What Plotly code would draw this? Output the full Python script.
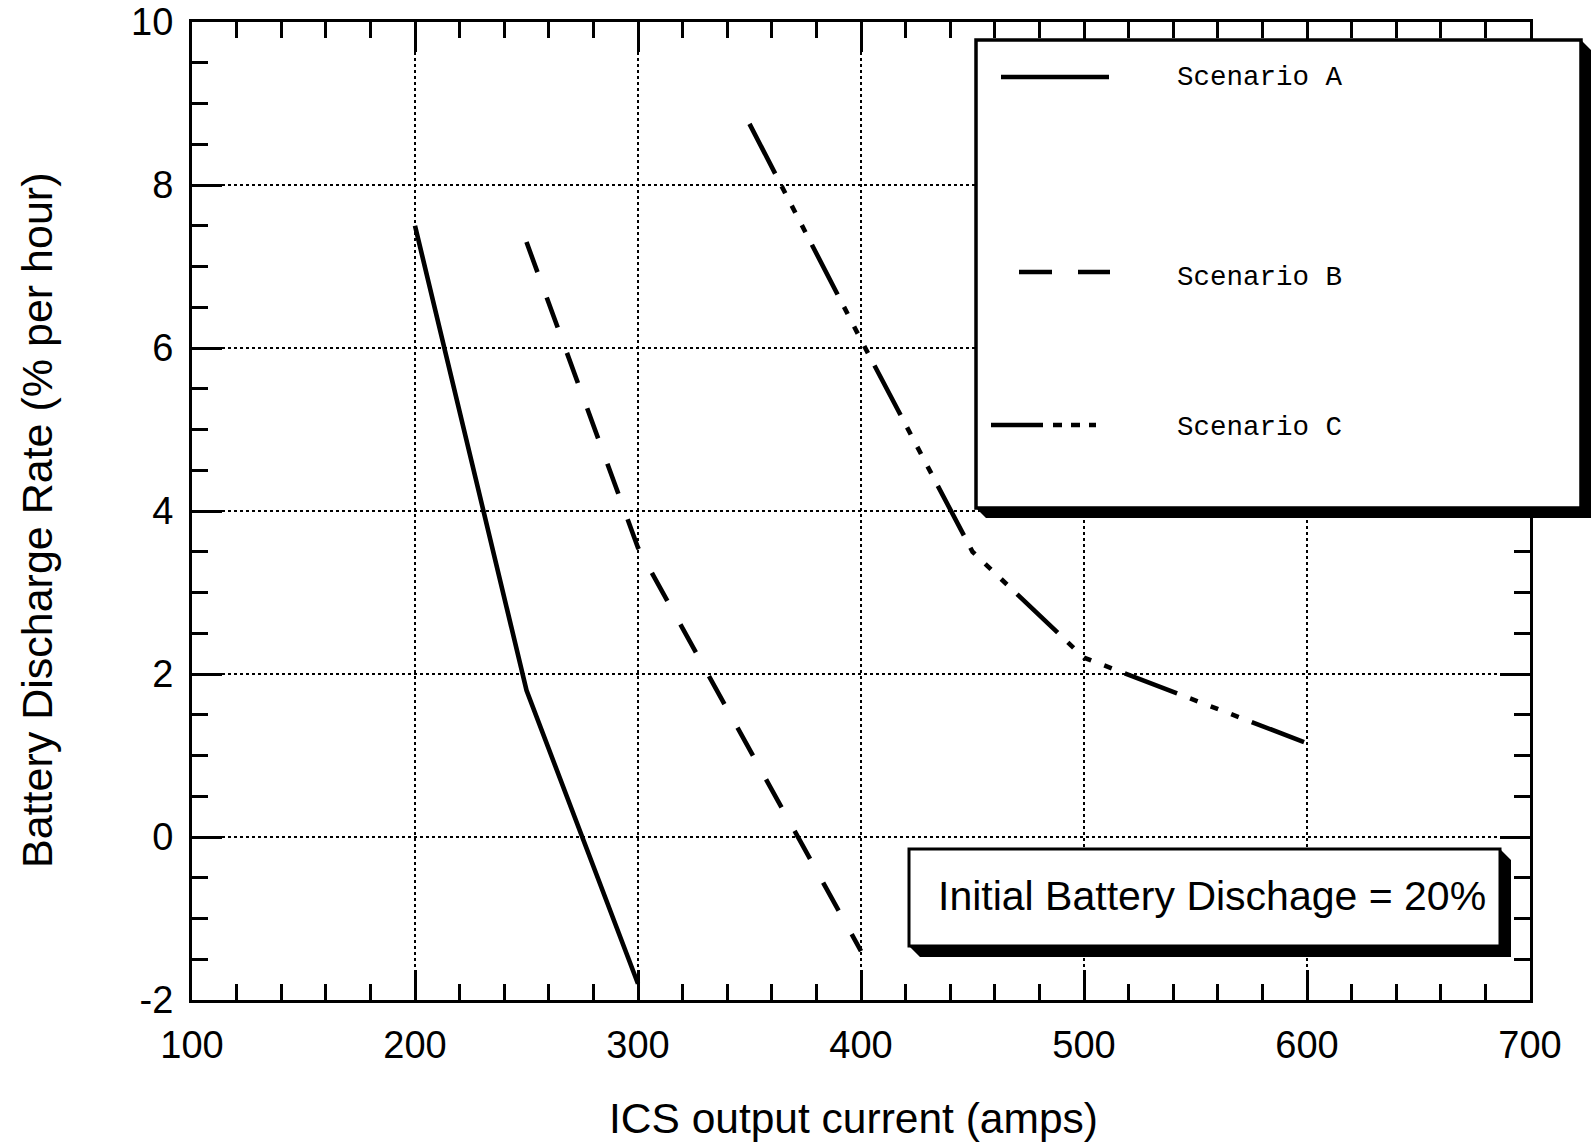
import plotly.graph_objects as go

# ICS output current (amps) and battery discharge rate (% per hour) for each scenario
current_a = [200, 250, 300]
rate_a = [7.5, 1.8, -1.8]

current_b = [250, 300, 400]
rate_b = [7.3, 3.55, -1.4]

current_c = [350, 400, 450, 500, 600]
rate_c = [8.75, 6.1, 3.5, 2.2, 1.15]

scenario_names = ["Scenario A", "Scenario B", "Scenario C"]

x_tick_vals = [100, 200, 300, 400, 500, 600, 700]
x_tick_text = ["100", "200", "300", "400", "500", "600", "700"]
y_tick_vals = [-2, 0, 2, 4, 6, 8, 10]
y_tick_text = ["-2", "0", "2", "4", "6", "8", "10"]

note_text = "Initial Battery Dischage = 20%"

W, H = 1591, 1147
L, R, T, B = 192, 1530, 22, 1000  # plot area edges in page pixels


def px(x):
    return (x - L) / (R - L)


def py(y):
    return (B - y) / (B - T)


def shadow_path(x0, y0, x1, y1, d):
    pts = [(x0, y1), (x0 + d, y1 + d), (x1 + d, y1 + d), (x1 + d, y0 + d), (x1, y0), (x1, y1)]
    return "M " + " L ".join(f"{px(a):.5f},{py(b):.5f}" for a, b in pts) + " Z"


dash_b = "32px,27px"
dash_c = "56px,14px,8px,14px,8px,14px,8px,14px"
line_w = 4.6

fig = go.Figure()
fig.add_trace(go.Scatter(x=current_a, y=rate_a, mode="lines", name=scenario_names[0],
                         line=dict(color="black", width=line_w)))
fig.add_trace(go.Scatter(x=current_b, y=rate_b, mode="lines", name=scenario_names[1],
                         line=dict(color="black", width=line_w, dash=dash_b)))
fig.add_trace(go.Scatter(x=current_c, y=rate_c, mode="lines", name=scenario_names[2],
                         line=dict(color="black", width=line_w, dash=dash_c)))

axis_common = dict(
    showline=True, linecolor="black", linewidth=3, mirror="ticks",
    ticks="inside", tickcolor="black", tickwidth=2.5, ticklen=30,
    showgrid=True, gridcolor="black", gridwidth=1.5, griddash="dot",
    zeroline=False,
    tickfont=dict(family="Liberation Sans, Arial, sans-serif", size=38, color="black"),
)

fig.update_xaxes(
    range=[100, 700], tickmode="array", tickvals=x_tick_vals, ticktext=x_tick_text,
    minor=dict(ticks="inside", ticklen=16, tickwidth=2.5, tickcolor="black", dtick=20, showgrid=False),
    ticklabelstandoff=9,
    **axis_common,
)
fig.update_yaxes(
    range=[-2, 10], tickmode="array", tickvals=y_tick_vals, ticktext=y_tick_text,
    minor=dict(ticks="inside", ticklen=16, tickwidth=2.5, tickcolor="black", dtick=0.5, showgrid=False),
    ticklabelstandoff=8,
    **axis_common,
)

shapes = []
# legend panel with drop shadow
lg = (976, 40, 1581, 508)
shapes.append(dict(type="path", xref="paper", yref="paper", layer="above",
                   path=shadow_path(*lg, 10), fillcolor="black", line=dict(width=0)))
shapes.append(dict(type="rect", xref="paper", yref="paper", layer="above",
                   x0=px(lg[0]), x1=px(lg[2]), y0=py(lg[3]), y1=py(lg[1]),
                   fillcolor="white", line=dict(color="black", width=3.5)))
# note panel with drop shadow
nb = (909, 849, 1500, 946)
shapes.append(dict(type="path", xref="paper", yref="paper", layer="above",
                   path=shadow_path(*nb, 11), fillcolor="black", line=dict(width=0)))
shapes.append(dict(type="rect", xref="paper", yref="paper", layer="above",
                   x0=px(nb[0]), x1=px(nb[2]), y0=py(nb[3]), y1=py(nb[1]),
                   fillcolor="white", line=dict(color="black", width=3)))

# legend line samples
samples = [
    (1001, 1109, 77, "solid"),
    (1019, 1110, 272, "33px,26px"),
    (991, 1096, 425, "52px,10px,9px,9px,9px,9px,8px,60px"),
]
for x0, x1, y, dash in samples:
    shapes.append(dict(type="line", xref="paper", yref="paper", layer="above",
                       x0=px(x0), x1=px(x1), y0=py(y), y1=py(y),
                       line=dict(color="black", width=4.5, dash=dash)))

annotations = []
for name, y in zip(scenario_names, [77, 277, 427]):
    annotations.append(dict(text=name, xref="paper", yref="paper", x=px(1175), y=py(y),
                            xanchor="left", yanchor="middle", showarrow=False,
                            font=dict(family="Liberation Mono, Courier New, monospace", size=27.5, color="black")))
annotations.append(dict(text=note_text, xref="paper", yref="paper", x=px(1212), y=py(896),
                        xanchor="center", yanchor="middle", showarrow=False,
                        font=dict(family="Liberation Sans, Arial, sans-serif", size=41, color="black")))
# axis titles
annotations.append(dict(text="ICS output current (amps)", xref="paper", yref="paper",
                        x=px(853), y=py(1118), xanchor="center", yanchor="middle", showarrow=False,
                        font=dict(family="Liberation Sans, Arial, sans-serif", size=42.5, color="black")))
annotations.append(dict(text="Battery Discharge Rate (% per hour)", xref="paper", yref="paper",
                        x=px(37), y=py(521), xanchor="center", yanchor="middle", showarrow=False,
                        textangle=-90,
                        font=dict(family="Liberation Sans, Arial, sans-serif", size=43, color="black")))

fig.update_layout(
    width=W, height=H,
    margin=dict(l=L, r=W - R, t=T, b=H - B, autoexpand=False),
    paper_bgcolor="white", plot_bgcolor="white",
    showlegend=False,
    shapes=shapes, annotations=annotations,
)

fig.write_html("out.html")
